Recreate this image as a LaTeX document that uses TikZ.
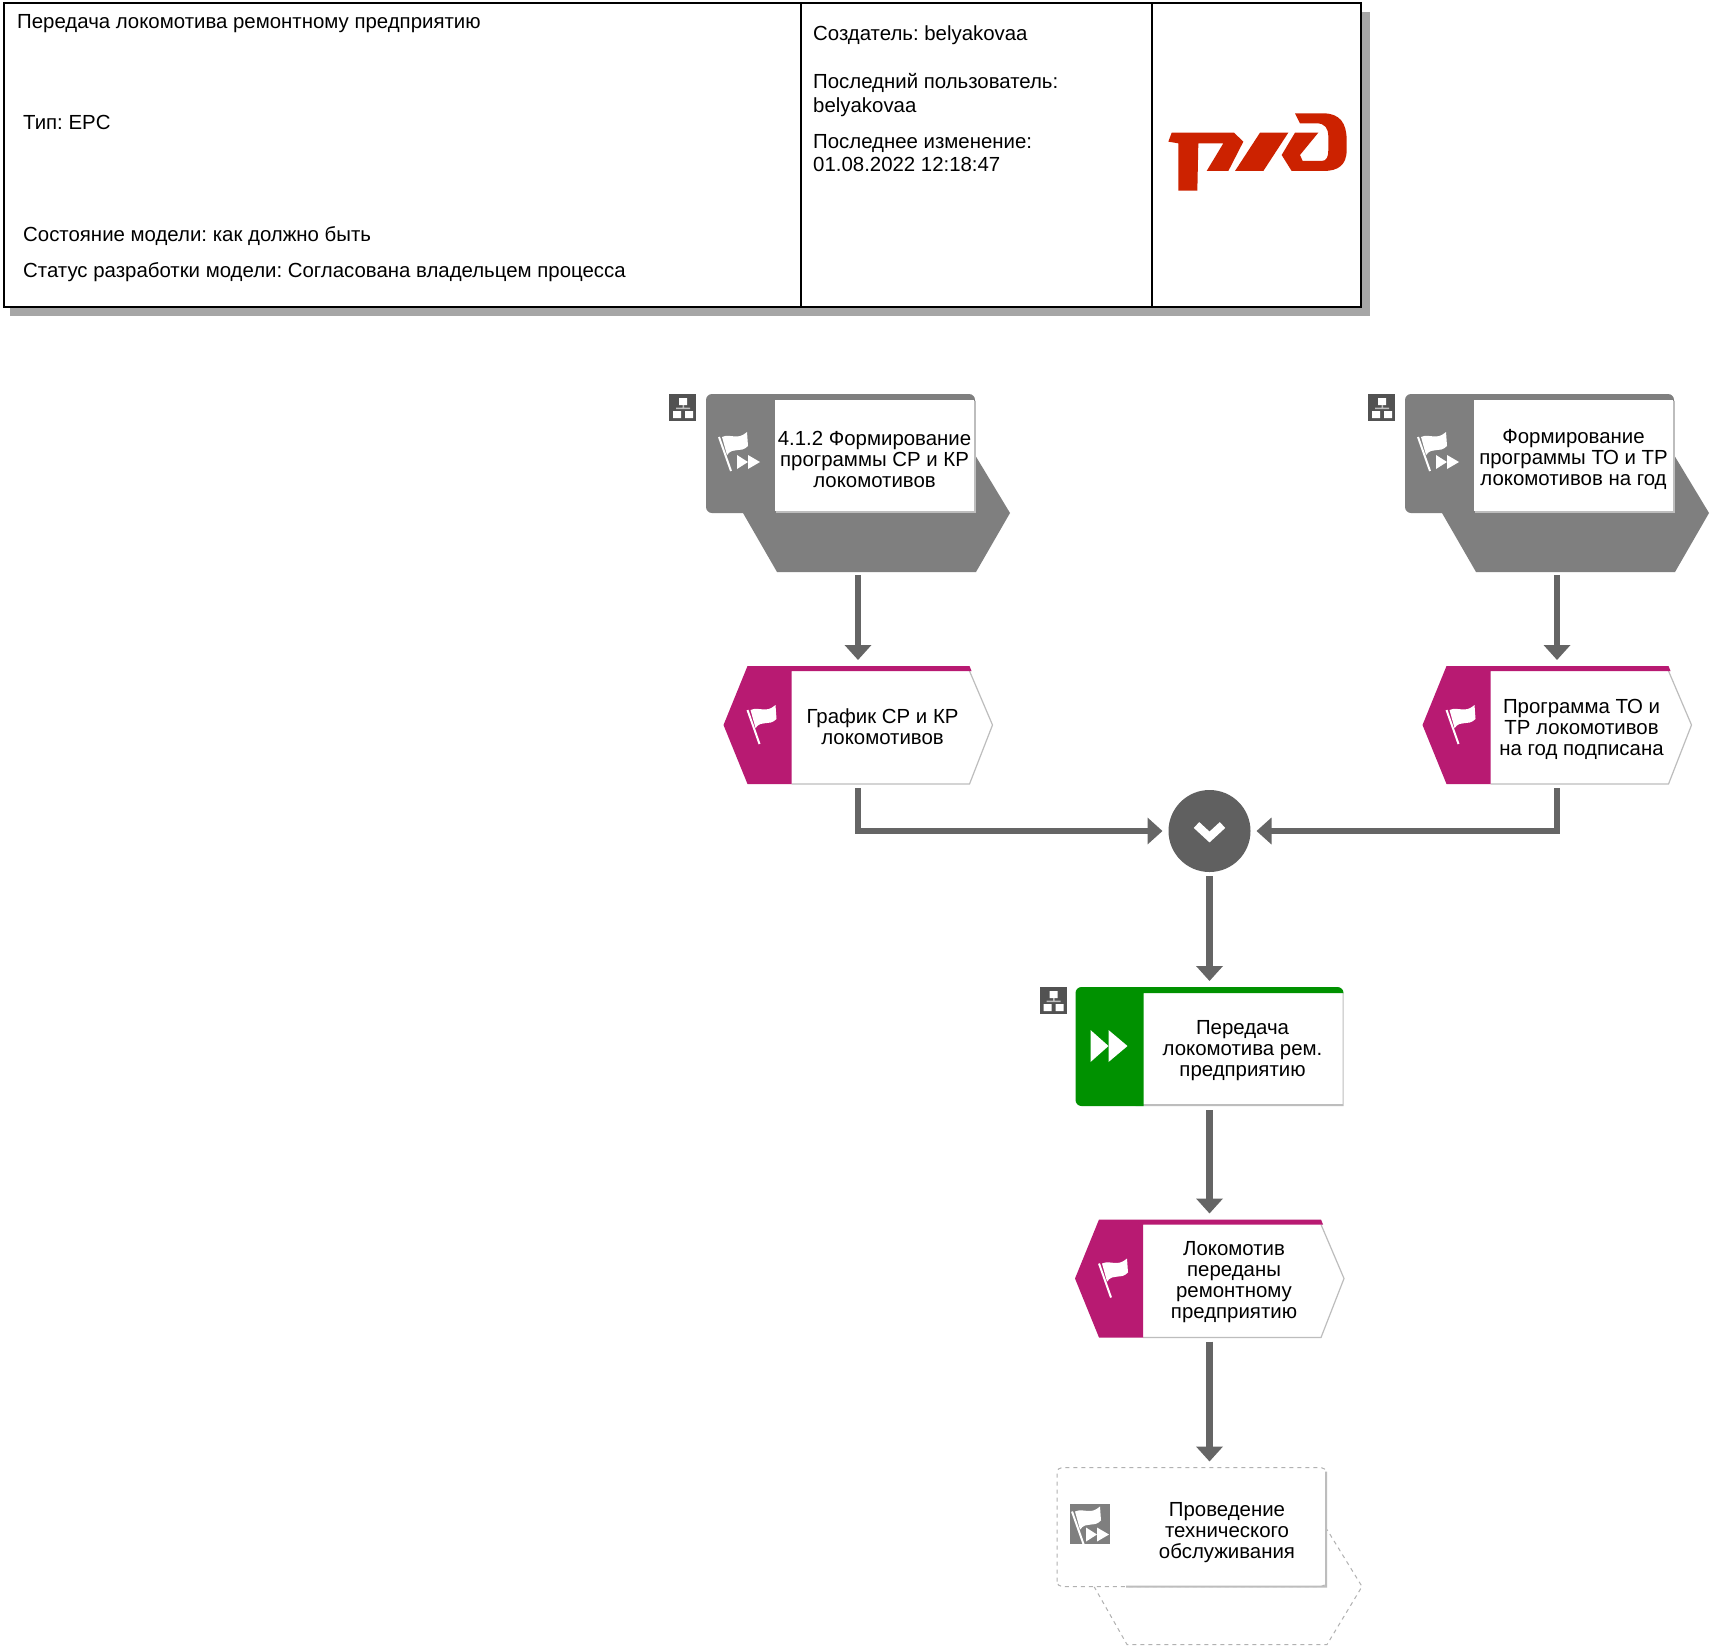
\documentclass[tikz,border=0pt]{standalone}
\usepackage{fontspec}
\setmainfont{Liberation Sans}
\frenchspacing
\usetikzlibrary{arrows.meta,positioning}
\definecolor{ifacegray}{HTML}{7F7F7F}
\definecolor{evtpink}{HTML}{B81A72}
\definecolor{fngreen}{HTML}{009100}
\definecolor{flowgray}{HTML}{656565}
\definecolor{shadowgray}{HTML}{A6A6A6}
\definecolor{edgegray}{HTML}{BDBDBD}
\definecolor{rzdred}{HTML}{CC2200}
\tikzset{
  x=1pt, y=-1pt,
  frame/.style 2 args={rectangle, minimum width=#1pt, minimum height=#2pt,
    inner sep=0pt, outer sep=0pt},
  lbl/.style={align=center, inner sep=0pt, font=\fontsize{20.4}{21}\selectfont},
  hdr/.style={anchor=base west, inner sep=0pt, font=\fontsize{20.4}{24}\selectfont},
  hdrbox/.style={draw=black, line width=1.5pt, fill=white},
  flow/.style={-{Triangle[length=15pt,width=26pt]}, line width=6.5pt, draw=flowgray},
  gate/.style={circle, fill=flowgray!95!black, minimum size=82pt, inner sep=0pt, outer sep=0pt},
}
% flag with its pole, origin at the top of the pole
\newcommand{\flagicon}[1]{%
  \begin{scope}[shift={(#1)}]
    \draw[white, line width=2pt] (0,0) -- (12,34);
    \fill[white] (3,0) .. controls (12,-4) and (18,4) .. (28,-5) -- (29,9)
      .. controls (21,17) and (15,9) .. (8,18) -- cycle;
  \end{scope}}
\newcommand{\fficon}[1]{%
  \begin{scope}[shift={(#1)}]
    \fill[white] (0,0) -- (11,7) -- (0,14) -- cycle;
    \fill[white] (11,0) -- (23,7) -- (11,14) -- cycle;
  \end{scope}}
\newcommand{\hiericon}[1]{%
  \begin{scope}[shift={(#1)}]
    \fill[black!68] (0,0) rectangle (27,27);
    \fill[white] (10,4) rectangle (18,11) (4,17) rectangle (12,24) (16,17) rectangle (24,24);
    \fill[white!75!black] (7,13.5) rectangle (21,15) (13.5,11) rectangle (15,15);
  \end{scope}}
% process interface: #1 name, #2 placement, #3 text
\newcommand{\procsym}[3]{%
  \node[frame={304}{178}, #2] (#1) {};
  \begin{scope}[shift={(#1.north west)}]
    \fill[ifacegray] (37,119) [rounded corners=6pt] -- (0,119) -- (0,0) -- (269,0)
      [sharp corners] -- (269,61) -- (304,119) -- (270,178) -- (71,178) -- cycle;
    \fill[edgegray] (70,7) rectangle (270,119);
    \fill[white] (69,6) rectangle (268,117);
    \node[lbl] (#1txt) at (168.5,65) {#3};
    \flagicon{13,43}
    \fficon{31,61}
    \hiericon{-37,0}
  \end{scope}}
% event: #1 text height, #2 name, #3 placement, #4 text
\newcommand{\evtsym}[4][63]{%
  \node[frame={269}{118}, #3] (#2) {};
  \begin{scope}[shift={(#2.north west)}]
    \fill[white] (24,0) -- (246,0) -- (269,59) -- (246,118) -- (24,118) -- (0,59) -- cycle;
    \draw[edgegray, line width=1.2pt] (246,5) -- (269,59) -- (246,118) -- (68,118);
    \fill[evtpink] (24,0) -- (246,0) -- (248,5) -- (68,5) -- (68,118) -- (24,118) -- (0,59) -- cycle;
    \node[lbl] (#2txt) at (159,#1) {#4};
    \flagicon{24,44}
  \end{scope}}

\begin{document}
\begin{tikzpicture}
    \useasboundingbox[fill=white] (0,0) rectangle (1712,1649);

    % header
    \fill[shadowgray] (10,12) rectangle (1370,316);
    \node[hdrbox, frame={1357}{304}] (head) at (682.5,155) {};
    \draw[black, line width=1.2pt] (801,3) -- (801,307) (1152,3) -- (1152,307);
    \node[hdr] (title) at (17,28) {Передача локомотива ремонтному предприятию};
    \node[hdr] (kind) at (23,129) {Тип: EPC};
    \node[hdr] (state) at (23,241) {Состояние модели: как должно быть};
    \node[hdr] (status) at (23,277) {Статус разработки модели: Согласована владельцем процесса};
    \node[hdr] (creator) at (813,40) {Создатель: belyakovaa};
    \node[hdr] (lastuser) at (813,88) {Последний пользователь:};
    \node[hdr] (lastname) at (813,112) {belyakovaa};
    \node[hdr] (lastedit) at (813,148) {Последнее изменение:};
    \node[hdr] (lastdate) at (813,171) {01.08.2022 12:18:47};
    \begin{scope}[shift={(1160,100)}, x=0.3333pt, y=-0.3333pt]
      \fill[rzdred] (25,125) -- (35,98) -- (222,98) -- (250,125) -- (205,213) -- (140,213)
        -- (190,130) -- (115,130) -- (112,272) -- (55,272) -- (55,130) -- cycle;
      \fill[rzdred] (300,98) -- (385,98) -- (310,213) -- (225,213) -- cycle;
      \fill[rzdred] (405,40) -- (490,40) .. controls (540,40) and (560,70) .. (560,120)
        -- (560,150) .. controls (560,195) and (535,213) .. (490,213) -- (395,213)
        -- (365,165) -- (405,98) -- (475,98) -- (420,165) -- (428,183) -- (485,183)
        .. controls (500,183) and (505,170) .. (505,150) -- (505,110)
        .. controls (505,85) and (495,70) .. (470,70) -- (420,70) -- cycle;
    \end{scope}

    % model
    \procsym{frmsr}{at={(858,483)}}{4.1.2 Формирование\\ программы СР и КР\\ локомотивов}
    \procsym{frmto}{at={(1557,483)}}{Формирование\\ программы ТО и ТР\\ локомотивов на год}
    \evtsym[61]{grf}{below=94pt of frmsr}{График СР и КР\\ локомотивов}
    \evtsym{prg}{below=94pt of frmto}{Программа ТО и\\ ТР локомотивов\\ на год подписана}
    \node[gate] (xorgate) at (1209.5,831) {};
    \draw[white, line width=8pt] ([shift={(-13,-6)}]xorgate.center)
      -- ([shift={(0,6)}]xorgate.center) -- ([shift={(13,-6)}]xorgate.center);

    \node[frame={268}{119}, below=115pt of xorgate] (fn) {};
    \begin{scope}[shift={(fn.north west)}]
      \fill[white] (60,3) rectangle (268,117);
      \fill[edgegray] (60,117) rectangle (268,119) (267,6) rectangle (268,119);
      \fill[fngreen] (268,6) -- (68,6) -- (68,119) [rounded corners=6pt] -- (0,119) -- (0,0)
        -- (268,0) [sharp corners] -- cycle;
      \fill[white] (15,43) -- (33,59) -- (15,75) -- cycle;
      \fill[white] (33,43) -- (52,59) -- (33,75) -- cycle;
      \node[lbl] (fntxt) at (167,64) {Передача\\ локомотива рем.\\ предприятию};
      \hiericon{-36,0}
    \end{scope}

    \evtsym{handed}{below=113.5pt of fn}{Локомотив\\ переданы\\ ремонтному\\ предприятию}

    \node[frame={305}{177}, below=130pt of handed] (service) {};
    \begin{scope}[shift={(service.north west)}]
      \draw[edgegray!80!gray, line width=1pt, dash pattern=on 4pt off 4pt]
        (37,119) -- (70,177) -- (270,177) -- (305,119) -- (270,62);
      \draw[edgegray!80!gray, line width=1pt, fill=white, rounded corners=5pt, dash pattern=on 4pt off 4pt]
        (0,119) -- (0,0) -- (269,0) -- (269,119) -- cycle;
      \fill[edgegray] (69,118) rectangle (270,120) (268,4) rectangle (270,120);
      \fill[ifacegray] (13,36) rectangle (53,76);
      \flagicon{15,44}
      \fficon{29,60}
      \node[lbl] (servicetxt) at (170,65) {Проведение\\ технического\\ обслуживания};
    \end{scope}

    \draw[flow, shorten <=3pt, shorten >=6pt] (frmsr.south) -- (grf.north);
    \draw[flow, shorten <=3pt, shorten >=6pt] (frmto.south) -- (prg.north);
    \draw[flow, shorten <=4pt, shorten >=6pt] (grf.south) |- (xorgate.west);
    \draw[flow, shorten <=4pt, shorten >=6pt] (prg.south) |- (xorgate.east);
    \draw[flow, shorten <=4pt, shorten >=6pt] (xorgate.south) -- (fn.north);
    \draw[flow, shorten <=4pt, shorten >=6pt] (fn.south) -- (handed.north);
    \draw[flow, shorten <=4pt, shorten >=6pt] (handed.south) -- (service.north);
  \end{tikzpicture}
\end{document}
